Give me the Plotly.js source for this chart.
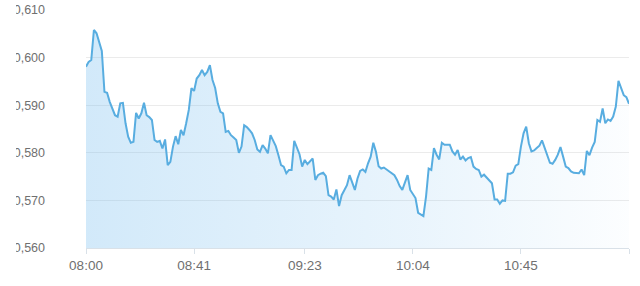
<!DOCTYPE html>
<html>
<head>
<meta charset="utf-8">
<script src="https://cdn.plot.ly/plotly-3.0.1.min.js"></script>
<style>
html,body{margin:0;padding:0;background:#fff;overflow:hidden;}
#wrap{position:absolute;left:16px;top:0;width:624px;height:286px;overflow:hidden;}
#chart{width:624px;height:286px;}
#edge{position:absolute;left:0;top:0;width:16px;height:286px;background:#fff;z-index:10;}
</style>
</head>
<body>
<div id="wrap"><div id="chart"></div></div>
<div id="edge"></div>
<script>
// Session start and one reading per minute
const startTime = '08:00';
const endTime = '11:26';
const prices = [
  0.5981, 0.5991, 0.5995, 0.6058, 0.6051, 0.6030, 0.6014, 0.5928, 0.5926, 0.5907,
  0.5893, 0.5879, 0.5876, 0.5904, 0.5905, 0.5862, 0.5834, 0.5821, 0.5823, 0.5884,
  0.5872, 0.5883, 0.5905, 0.5879, 0.5875, 0.5869, 0.5827, 0.5823, 0.5825, 0.5809,
  0.5828, 0.5774, 0.5781, 0.5813, 0.5835, 0.5818, 0.5848, 0.5837, 0.5862, 0.5890,
  0.5936, 0.5930, 0.5956, 0.5963, 0.5974, 0.5963, 0.5970, 0.5984, 0.5953, 0.5936,
  0.5904, 0.5886, 0.5883, 0.5844, 0.5846, 0.5837, 0.5832, 0.5827, 0.5800, 0.5813,
  0.5858, 0.5854, 0.5848, 0.5841, 0.5827, 0.5807, 0.5802, 0.5816, 0.5809, 0.5799,
  0.5837, 0.5827, 0.5814, 0.5795, 0.5774, 0.5771, 0.5757, 0.5764, 0.5764, 0.5825,
  0.5809, 0.5797, 0.5771, 0.5785, 0.5776, 0.5781, 0.5788, 0.5743, 0.5753, 0.5756,
  0.5758, 0.5751, 0.5711, 0.5708, 0.5702, 0.5723, 0.5688, 0.5711, 0.5723, 0.5732,
  0.5753, 0.5737, 0.5722, 0.5746, 0.5762, 0.5765, 0.5760, 0.5778, 0.5792, 0.5821,
  0.5802, 0.5772, 0.5767, 0.5769, 0.5765, 0.5762, 0.5757, 0.5753, 0.5743, 0.5730,
  0.5722, 0.5736, 0.5753, 0.5722, 0.5712, 0.5705, 0.5674, 0.5670, 0.5667, 0.5708,
  0.5767, 0.5764, 0.5810, 0.5796, 0.5786, 0.5821, 0.5817, 0.5817, 0.5817, 0.5803,
  0.5796, 0.5806, 0.5786, 0.5792, 0.5784, 0.5789, 0.5791, 0.5771, 0.5766, 0.5764,
  0.5750, 0.5754, 0.5748, 0.5740, 0.5736, 0.5702, 0.5702, 0.5693, 0.5700, 0.5699,
  0.5756, 0.5756, 0.5759, 0.5773, 0.5776, 0.5813, 0.5841, 0.5855, 0.5820, 0.5803,
  0.5805, 0.5810, 0.5815, 0.5826, 0.5810, 0.5796, 0.5779, 0.5777, 0.5785, 0.5796,
  0.5812, 0.5792, 0.5771, 0.5768, 0.5761, 0.5758, 0.5758, 0.5757, 0.5765, 0.5753,
  0.5804, 0.5795, 0.5811, 0.5823, 0.5869, 0.5865, 0.5893, 0.5862, 0.5870, 0.5867,
  0.5876, 0.5897, 0.5951, 0.5938, 0.5921, 0.5917, 0.5903
];
const xTickLabels = ['08:00', '08:41', '09:23', '10:04', '10:45'];
const yRange = [0.56, 0.61];

function toMin(t) { const p = t.split(':'); return (+p[0]) * 60 + (+p[1]); }
const t0 = toMin(startTime);
const xs = prices.map((_, i) => i);
const tickVals = xTickLabels.map(t => toMin(t) - t0).concat([toMin(endTime) - t0]);
const tickText = xTickLabels.concat(['']);

const trace = {
  x: xs, y: prices, type: 'scatter', mode: 'lines',
  line: {color: '#58ade0', width: 2},
  fill: 'tozeroy',
  fillgradient: {
    type: 'horizontal',
    colorscale: [[0, 'rgba(110,185,238,0.31)'], [0.6, 'rgba(110,185,238,0.15)'], [1, 'rgba(110,185,238,0.02)']]
  },
  hoverinfo: 'none'
};

const layout = {
  width: 624, height: 286,
  margin: {l: 70, r: 11, t: 10, b: 38, pad: 0},
  paper_bgcolor: '#fff', plot_bgcolor: '#fff',
  separators: ',.',
  showlegend: false,
  font: {family: 'Liberation Sans, Arial, sans-serif', color: '#707070', size: 12.5},
  xaxis: {
    range: [0, toMin(endTime) - t0],
    tickvals: tickVals, ticktext: tickText,
    showgrid: false, zeroline: false,
    showline: true, linecolor: '#d9e1e8', linewidth: 1,
    ticks: 'outside', ticklen: 5, tickcolor: '#d9e1e8', tickwidth: 1,
    tickfont: {size: 13.5, color: '#707070'},
    fixedrange: true
  },
  yaxis: {
    range: yRange, dtick: 0.01, tick0: 0.56, tickformat: '.3f',
    showgrid: true, gridcolor: '#ebebeb', gridwidth: 1,
    zeroline: false, showline: false, ticks: '',
    ticklabelstandoff: 40,
    tickfont: {size: 12.5, color: '#707070'},
    fixedrange: true
  }
};

Plotly.newPlot('chart', [trace], layout, {staticPlot: true, displayModeBar: false});
</script>
</body>
</html>
